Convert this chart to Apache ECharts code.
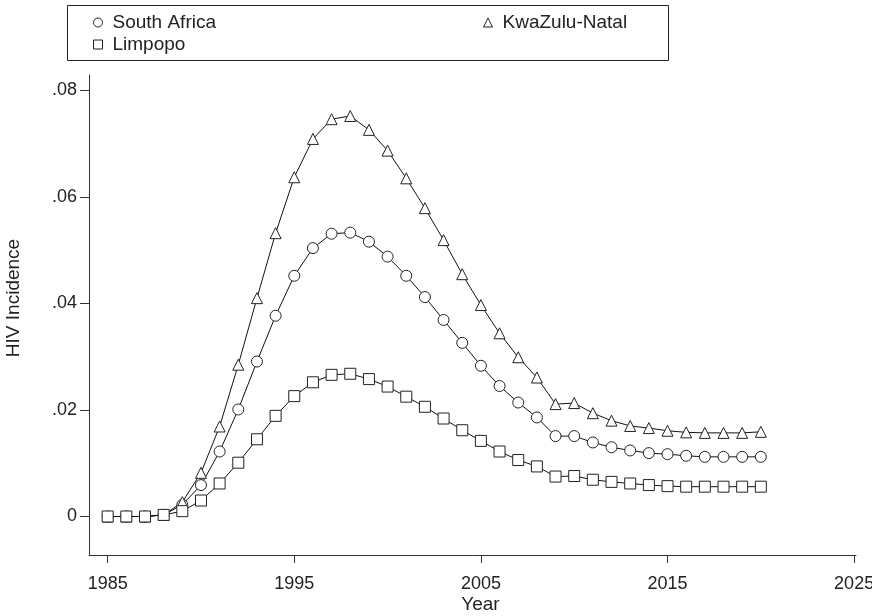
<!DOCTYPE html>
<html lang="en">
<head>
    <meta charset="UTF-8">
    <title>HIV Incidence</title>
    <script src="https://cdn.jsdelivr.net/npm/echarts@6/dist/echarts.min.js"></script>
    <style>
        html, body { margin: 0; padding: 0; background: #fff; }
        #chart { width: 872px; height: 616px; }
    </style>
</head>
<body>
<div id="chart"></div>
<script type="text/javascript">
    // years 1985 - 2020
    var years = [];
    for (var y = 1985; y <= 2020; y++) { years.push(y); }

    var southAfrica = [0, 0, 0, 0.0003, 0.0022, 0.0059, 0.0122, 0.0201, 0.0291, 0.0377,
        0.0452, 0.0504, 0.0531, 0.0533, 0.0516, 0.0488, 0.0452, 0.0412, 0.0369, 0.0326,
        0.0283, 0.0245, 0.0214, 0.0186, 0.0151, 0.0151, 0.0139, 0.0130, 0.0124, 0.0119,
        0.0117, 0.0114, 0.0112, 0.0112, 0.0112, 0.0112];
    var kwazuluNatal = [0, 0, 0, 0.0003, 0.0027, 0.0082, 0.0169, 0.0285, 0.0410, 0.0532,
        0.0637, 0.0709, 0.0746, 0.0752, 0.0726, 0.0687, 0.0635, 0.0579, 0.0519, 0.0455,
        0.0397, 0.0344, 0.0299, 0.0261, 0.0211, 0.0213, 0.0194, 0.0180, 0.0170, 0.0166,
        0.0161, 0.0158, 0.0157, 0.0157, 0.0157, 0.0159];
    var limpopo = [0, 0, 0, 0.0003, 0.0010, 0.0030, 0.0062, 0.0101, 0.0145, 0.0189,
        0.0226, 0.0252, 0.0266, 0.0268, 0.0258, 0.0244, 0.0225, 0.0206, 0.0184, 0.0162,
        0.0142, 0.0122, 0.0106, 0.0094, 0.0075, 0.0076, 0.0069, 0.0065, 0.0062, 0.0059,
        0.0057, 0.0056, 0.0056, 0.0056, 0.0056, 0.0056];

    var xTicks = [1985, 1995, 2005, 2015, 2025];
    var yTicks = [0, 0.02, 0.04, 0.06, 0.08];
    var yTickLabels = ['0', '.02', '.04', '.06', '.08'];

    function pairs(vals) {
        var out = [];
        for (var i = 0; i < years.length; i++) { out.push([years[i], vals[i]]); }
        return out;
    }

    var FONT = 'Liberation Sans';
    var INK = '#222';

    function makeSeries(name, symbol, vals) {
        return {
            name: name,
            type: 'line',
            data: pairs(vals),
            symbol: symbol,
            symbolSize: 11,
            showAllSymbol: true,
            lineStyle: { color: '#111', width: 1 },
            itemStyle: { color: '#fff', borderColor: '#222', borderWidth: 1 },
            emphasis: { disabled: true },
            silent: true,
            animation: false
        };
    }

    var legendText = { fontFamily: FONT, fontSize: 19, color: INK, lineHeight: 19, padding: [0, 0, 0, 5] };
    var legendItem = { color: '#fff', borderColor: '#222', borderWidth: 1 };

    var myChart = echarts.init(document.getElementById('chart'));

    var option = {
        animation: false,
        grid: { left: 89, right: 16, top: 75, bottom: 61, containLabel: false, outerBoundsMode: 'none' },
        legend: [{
            data: [{ name: 'South Africa', icon: 'circle' }, { name: 'Limpopo', icon: 'rect' }],
            orient: 'vertical',
            left: 88, top: 8,
            itemWidth: 9, itemHeight: 9,
            itemGap: 3,
            selectedMode: false,
            itemStyle: legendItem,
            textStyle: legendText
        }, {
            data: [{ name: 'KwaZulu-Natal', icon: 'triangle' }],
            orient: 'vertical',
            left: 478, top: 8,
            itemWidth: 9, itemHeight: 9,
            selectedMode: false,
            itemStyle: legendItem,
            textStyle: legendText
        }],
        graphic: [{
            type: 'rect',
            shape: { x: 67.5, y: 5.5, width: 601, height: 55 },
            style: { fill: 'none', stroke: '#222', lineWidth: 1 },
            silent: true
        }],
        xAxis: {
            type: 'value',
            min: 1984,
            max: 2025.1,
            name: 'Year',
            nameLocation: 'middle',
            nameGap: 40,
            nameMoveOverlap: false,
            nameTextStyle: { fontFamily: FONT, fontSize: 19, color: INK, padding: [0, 0, 0, 16] },
            axisLine: { show: true, onZero: false, lineStyle: { color: '#333', width: 1 } },
            axisTick: { show: true, length: 8, customValues: xTicks, lineStyle: { color: '#333' } },
            axisLabel: {
                customValues: xTicks,
                fontFamily: FONT, fontSize: 18, color: INK, margin: 20,
                formatter: function (v) { return String(v); }
            },
            splitLine: { show: false }
        },
        yAxis: {
            type: 'value',
            min: -0.00723,
            max: 0.0829,
            name: 'HIV Incidence',
            nameLocation: 'middle',
            nameGap: 66,
            nameMoveOverlap: false,
            nameTextStyle: { fontFamily: FONT, fontSize: 19, color: INK, padding: [0, 0, 0, 34] },
            axisLine: { show: true, onZero: false, lineStyle: { color: '#333', width: 1 } },
            axisTick: { show: true, length: 9, customValues: yTicks, lineStyle: { color: '#333' } },
            axisLabel: {
                customValues: yTicks,
                fontFamily: FONT, fontSize: 18, color: INK, margin: 12,
                formatter: function (v) {
                    for (var i = 0; i < yTicks.length; i++) {
                        if (Math.abs(v - yTicks[i]) < 1e-9) { return yTickLabels[i]; }
                    }
                    return '';
                }
            },
            splitLine: { show: false }
        },
        series: [
            makeSeries('South Africa', 'circle', southAfrica),
            makeSeries('KwaZulu-Natal', 'triangle', kwazuluNatal),
            makeSeries('Limpopo', 'rect', limpopo)
        ]
    };
    myChart.setOption(option);
</script>
</body>
</html>
